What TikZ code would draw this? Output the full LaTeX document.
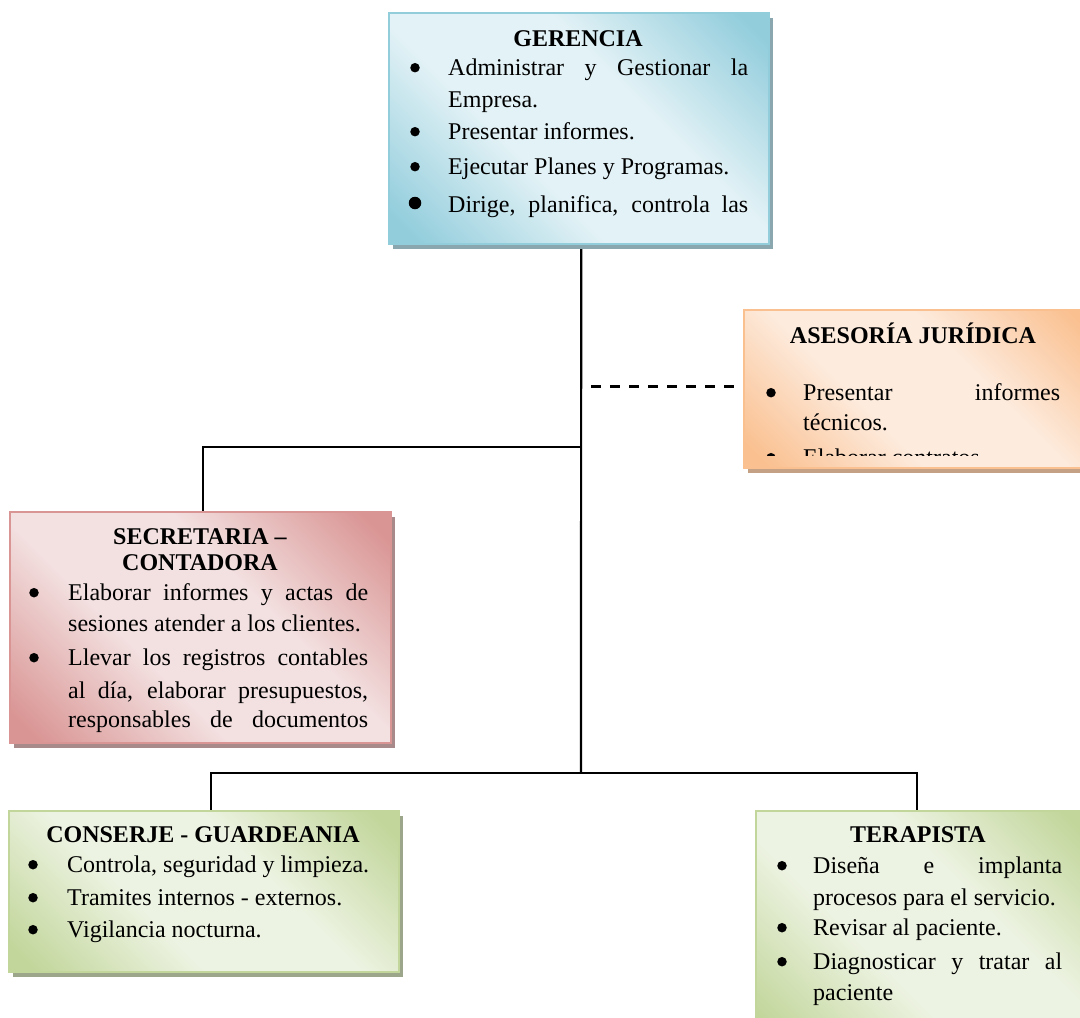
\documentclass[tikz,border=0pt]{standalone}
\usepackage{fontspec}
\setmainfont{Liberation Serif}
\usetikzlibrary{shadows}

% box palettes: dark corner tone, light centre tone, shadow tone
\definecolor{blueD}{HTML}{92CDDC}
\definecolor{blueL}{HTML}{E3F2F6}
\definecolor{blueS}{HTML}{8AA6AE}
\definecolor{orD}{HTML}{FAC090}
\definecolor{orL}{HTML}{FDEBDD}
\definecolor{orS}{HTML}{C4A184}
\definecolor{redD}{HTML}{D99594}
\definecolor{redL}{HTML}{F3E0E0}
\definecolor{redS}{HTML}{A88A8A}
\definecolor{grnD}{HTML}{C2D69B}
\definecolor{grnL}{HTML}{EDF3E2}
\definecolor{grnS}{HTML}{9CA68A}

% diagonal fills: dark corners, wide light band through the middle
\pgfdeclareverticalshading{blueFill}{100bp}{color(0bp)=(blueD); color(18bp)=(blueD); color(40bp)=(blueL); color(60bp)=(blueL); color(82bp)=(blueD); color(100bp)=(blueD)}
\pgfdeclareverticalshading{orFill}{100bp}{color(0bp)=(orD); color(18bp)=(orD); color(40bp)=(orL); color(60bp)=(orL); color(82bp)=(orD); color(100bp)=(orD)}
\pgfdeclareverticalshading{redFill}{100bp}{color(0bp)=(redD); color(18bp)=(redD); color(40bp)=(redL); color(60bp)=(redL); color(82bp)=(redD); color(100bp)=(redD)}
\pgfdeclareverticalshading{grnFill}{100bp}{color(0bp)=(grnD); color(18bp)=(grnD); color(40bp)=(grnL); color(60bp)=(grnL); color(82bp)=(grnD); color(100bp)=(grnD)}

\tikzset{
  x=1pt, y=-1pt,
  unitbox/.style n args={3}{
    draw=#1, line width=1.5pt, inner sep=0pt, anchor=north west,
    shading=#2, shading angle=-45,
    drop shadow={shadow xshift=4pt, shadow yshift=-5pt, opacity=1, fill=#3, draw=none}
  },
  frame/.style={anchor=north west, inner sep=0pt},
  conn/.style={line width=2.2pt, black},
  dashconn/.style={line width=3pt, black, dash pattern=on 10pt off 9pt, dash phase=9pt},
  ttl/.style={anchor=base, inner sep=0pt, font=\fontsize{24pt}{29pt}\selectfont\bfseries},
  txt/.style={anchor=base west, inner sep=0pt, font=\fontsize{24pt}{29pt}\selectfont},
  % list markers, centred 7.3pt above the baseline of their line
  dot/.style={circle, fill=black, inner sep=0pt, minimum size=9.5pt, yshift=7.3pt},
  bigdot/.style={circle, fill=black, inner sep=0pt, minimum size=12.5pt, yshift=9pt},
}

\begin{document}
\begin{tikzpicture}
\path[use as bounding box] (0,0) rectangle (1080,1018);
\clip (0,0) rectangle (1080,1018);

% junction points on the trunk
\coordinate (jA) at (581,386);
\coordinate (jS) at (581,447);
\coordinate (hub) at (581,773);

% box frames, used as connector ends
\node[frame, minimum width=380pt, minimum height=231pt] (ger) at (388,12) {};
\node[frame, minimum width=350pt, minimum height=158pt] (ase) at (743,309) {};
\node[frame, minimum width=381pt, minimum height=231pt] (sec) at (9,511) {};
\node[frame, minimum width=390pt, minimum height=161pt] (con) at (8,810) {};
\node[frame, minimum width=335pt, minimum height=230pt] (ter) at (755,810) {};

% connectors
\draw[conn] ([xshift=3pt]ger.south) -- (hub);
\draw[conn] (jS) -| ([xshift=3.5pt]sec.north);
\draw[dashconn] (jA) -- (jA -| ase.west);
\draw[conn] (hub) -| ([xshift=8pt]con.north);
\draw[conn] (hub) -| ([xshift=-5.5pt]ter.north);

% shaded boxes
\node[unitbox={blueD}{blueFill}{blueS}, minimum width=380pt, minimum height=231pt] (gerF) at (388,12) {};
\node[unitbox={orD}{orFill}{orS}, minimum width=350pt, minimum height=158pt] (aseF) at (743,309) {};
\node[unitbox={redD}{redFill}{redS}, minimum width=381pt, minimum height=231pt] (secF) at (9,511) {};
\node[unitbox={grnD}{grnFill}{grnS}, minimum width=390pt, minimum height=161pt] (conF) at (8,810) {};
\node[unitbox={grnD}{grnFill}{grnS}, minimum width=335pt, minimum height=230pt] (terF) at (755,810) {};

% GERENCIA
\node[ttl] (gT) at (578,46) {GERENCIA};
\node[dot] (gb1) at (415,75) {};
\node[txt] (g1) at (448,75) {\makebox[300pt][s]{Administrar y Gestionar la}};
\node[txt] (g2) at (448,107) {Empresa.};
\node[dot] (gb2) at (415,139) {};
\node[txt] (g3) at (448,139) {Presentar informes.};
\node[dot] (gb3) at (415,174) {};
\node[txt] (g4) at (448,174) {Ejecutar Planes y Programas.};
\node[bigdot] (gb4) at (415,212) {};
\node[txt] (g5) at (448,212) {\makebox[300pt][s]{Dirige, planifica, controla las}};

% ASESORÍA JURÍDICA
\node[ttl] (aT) at (913,343) {ASESORÍA JURÍDICA};
\node[dot] (ab1) at (771,400) {};
\node[txt] (a1) at (803,400) {\makebox[257pt][s]{Presentar informes}};
\node[txt] (a2) at (803,430) {técnicos.};
\begin{scope}
  \clip (743,309) rectangle (1080,455);
  \node[dot] (ab2) at (771,465) {};
  \node[txt] (a3) at (803,465) {Elaborar contratos};
\end{scope}

% SECRETARIA – CONTADORA
\node[ttl] (sT1) at (200,544) {SECRETARIA –};
\node[ttl] (sT2) at (200,570) {CONTADORA};
\node[dot] (sb1) at (34,600) {};
\node[txt] (s1) at (68,600) {\makebox[300pt][s]{Elaborar informes y actas de}};
\node[txt] (s2) at (68,631) {sesiones atender a los clientes.};
\node[dot] (sb2) at (34,665) {};
\node[txt] (s3) at (68,665) {\makebox[300pt][s]{Llevar los registros contables}};
\node[txt] (s4) at (68,698) {\makebox[300pt][s]{al día, elaborar presupuestos,}};
\node[txt] (s5) at (68,727) {\makebox[300pt][s]{responsables de documentos}};

% CONSERJE - GUARDEANIA
\node[ttl] (cT) at (203,842) {CONSERJE - GUARDEANIA};
\node[dot] (cb1) at (33,872) {};
\node[txt] (c1) at (67,872) {Controla, seguridad y limpieza.};
\node[dot] (cb2) at (33,905) {};
\node[txt] (c2) at (67,905) {Tramites internos - externos.};
\node[dot] (cb3) at (33,937) {};
\node[txt] (c3) at (67,937) {Vigilancia nocturna.};

% TERAPISTA
\node[ttl] (tT) at (918,842) {TERAPISTA};
\node[dot] (tb1) at (782,873) {};
\node[txt] (t1) at (813,873) {\makebox[249pt][s]{Diseña e implanta}};
\node[txt] (t2) at (813,905) {procesos para el servicio.};
\node[dot] (tb2) at (782,935) {};
\node[txt] (t3) at (813,935) {Revisar al paciente.};
\node[dot] (tb3) at (782,969) {};
\node[txt] (t4) at (813,969) {\makebox[249pt][s]{Diagnosticar y tratar al}};
\node[txt] (t5) at (813,1000) {paciente};
\end{tikzpicture}
\end{document}
